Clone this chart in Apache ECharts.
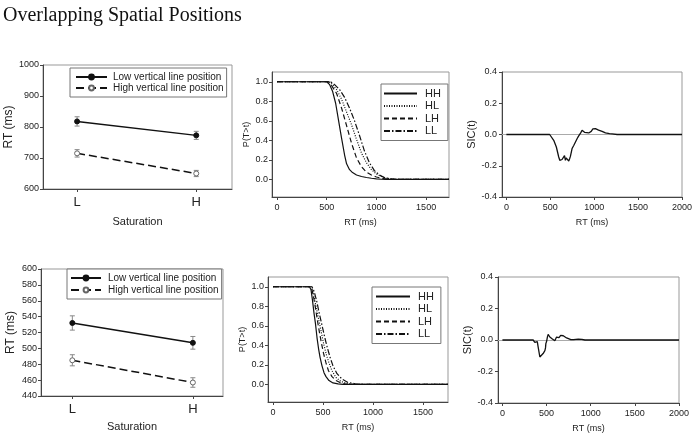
<!DOCTYPE html>
<html>
<head>
<meta charset="utf-8">
<script src="https://cdn.jsdelivr.net/npm/echarts@6/dist/echarts.min.js"></script>
<style>html,body{margin:0;padding:0;background:#fff}#c{width:697px;height:441px}</style>
</head>
<body>
<div id="c"></div>
<script>
// ---------- data ----------
const titleText = 'Overlapping Spatial Positions';
const satLabels = ['L', 'H'];
const satX = [1, 2];
const legendRT = ['Low vertical line position', 'High vertical line position'];
const legendSurv = ['HH', 'HL', 'LH', 'LL'];

// top row: mean RT and error
const topLow = [818, 773];
const topLowErr = [15, 13];
const topHigh = [715, 650];
const topHighErr = [12, 10];
// bottom row
const botLow = [532, 507];
const botLowErr = [9, 8];
const botHigh = [485, 457];
const botHighErr = [7, 6];

// survivor functions (top)
const topHH_t = [0, 500, 530, 560, 590, 620, 650, 680, 700, 730, 760, 800, 850, 900, 950, 1000, 1050, 1100, 1730];
const topHH_p = [1, 1, 0.97, 0.9, 0.78, 0.6, 0.42, 0.25, 0.16, 0.1, 0.07, 0.045, 0.03, 0.02, 0.012, 0.006, 0.002, 0, 0];
const topHL_t = [0, 530, 560, 600, 650, 700, 750, 800, 850, 900, 950, 1000, 1050, 1100, 1150, 1200, 1730];
const topHL_p = [1, 1, 0.97, 0.92, 0.82, 0.69, 0.56, 0.41, 0.27, 0.17, 0.1, 0.055, 0.03, 0.012, 0.004, 0, 0];
const topLH_t = [0, 520, 550, 600, 650, 700, 750, 800, 850, 900, 950, 1000, 1050, 1100, 1150, 1730];
const topLH_p = [1, 1, 0.96, 0.88, 0.73, 0.55, 0.37, 0.22, 0.13, 0.075, 0.045, 0.025, 0.012, 0.004, 0, 0];
const topLL_t = [0, 540, 580, 630, 680, 730, 780, 830, 880, 930, 980, 1030, 1080, 1130, 1200, 1730];
const topLL_p = [1, 1, 0.97, 0.92, 0.84, 0.73, 0.6, 0.45, 0.29, 0.17, 0.09, 0.045, 0.02, 0.008, 0, 0];

// survivor functions (bottom)
const botHH_t = [0, 365, 380, 395, 410, 425, 440, 455, 470, 490, 510, 530, 560, 600, 650, 700, 1750];
const botHH_p = [1, 1, 0.97, 0.86, 0.73, 0.62, 0.48, 0.37, 0.28, 0.19, 0.12, 0.08, 0.04, 0.015, 0.005, 0, 0];
const botHL_t = [0, 380, 395, 410, 430, 450, 470, 490, 510, 535, 560, 590, 630, 680, 740, 800, 1750];
const botHL_p = [1, 1, 0.97, 0.9, 0.8, 0.7, 0.6, 0.5, 0.4, 0.3, 0.22, 0.14, 0.07, 0.03, 0.01, 0, 0];
const botLH_t = [0, 375, 390, 405, 425, 445, 465, 485, 505, 530, 555, 590, 630, 680, 740, 1750];
const botLH_p = [1, 1, 0.97, 0.9, 0.78, 0.65, 0.53, 0.42, 0.32, 0.22, 0.14, 0.08, 0.04, 0.015, 0, 0];
const botLL_t = [0, 390, 405, 420, 440, 460, 480, 500, 520, 545, 570, 600, 640, 690, 750, 820, 900, 1750];
const botLL_p = [1, 1, 0.97, 0.92, 0.84, 0.74, 0.65, 0.56, 0.47, 0.37, 0.28, 0.19, 0.11, 0.055, 0.02, 0.007, 0, 0];

// SIC functions
const topSIC_t = [0, 493, 539, 569, 596, 608, 622, 634, 645, 653, 662, 672, 681, 691, 700, 710, 720, 729, 748, 767, 786, 805, 820, 835, 848, 862, 872, 880, 890, 900, 915, 928, 938, 948, 957, 966, 976, 985, 995, 1005, 1014, 1024, 1033, 1050, 1060, 1071, 1090, 1109, 1128, 1147, 1175, 1204, 1261, 2000];
const topSIC_v = [0, 0, -0.037, -0.08, -0.144, -0.165, -0.158, -0.16, -0.15, -0.148, -0.135, -0.165, -0.15, -0.155, -0.16, -0.17, -0.155, -0.14, -0.09, -0.07, -0.06, -0.027, -0.012, 0, 0.012, 0.027, 0.02, 0.022, 0.014, 0.017, 0.012, 0.018, 0.01, 0.016, 0.005, 0.02, 0.03, 0.036, 0.042, 0.035, 0.037, 0.032, 0.03, 0.028, 0.024, 0.02, 0.02, 0.015, 0.01, 0.008, 0.006, 0.004, 0, 0];
const botSIC_t = [0, 348, 367, 380, 386, 395, 405, 424, 432, 445, 461, 481, 488, 492, 500, 510, 518, 527, 537, 547, 557, 566, 575, 585, 594, 603, 613, 622, 632, 641, 651, 660, 670, 680, 689, 708, 727, 745, 775, 806, 859, 900, 935, 2000];
const botSIC_v = [0, 0, -0.015, -0.01, -0.02, -0.01, -0.045, -0.108, -0.118, -0.1, -0.086, -0.068, -0.05, -0.023, -0.01, 0.02, 0.036, 0.028, 0.019, 0.012, 0.01, 0.006, 0.015, 0.01, -0.005, 0.006, 0.019, 0.012, 0.008, 0.015, 0.022, 0.03, 0.042, 0.032, 0.027, 0.02, 0.013, 0.003, 0.002, 0.003, 0.005, 0.004, 0, 0];

// tick values
const survYTicks = [0, 0.2, 0.4, 0.6, 0.8, 1.0];
const survXTicks = [0, 500, 1000, 1500];
const sicXTicks = [0, 500, 1000, 1500, 2000];

// ---------- helpers ----------
const FONT = 'Liberation Sans';
const zip = (a, b) => a.map((v, i) => [v, b[i]]);
const zip3 = (a, b, c) => a.map((v, i) => [v, b[i], c[i]]);
const AX = '#444';

function baseAxis(extra) {
  return Object.assign({
    type: 'value',
    splitLine: { show: false },
    axisLine: { show: true, onZero: false, lineStyle: { color: AX, width: 1 } },
    axisTick: { show: true, length: 3, inside: false, lineStyle: { color: AX } },
    nameLocation: 'middle',
    nameTextStyle: { fontFamily: FONT, color: '#222', fontSize: 9 },
  }, extra);
}
const plain = v => String(Math.round(v * 1000) / 1000);
function lbl(fontSize, margin, formatter, customValues) {
  const o = { fontFamily: FONT, color: '#222', fontSize: fontSize, margin: margin, showMinLabel: true, showMaxLabel: true,
    formatter: formatter || plain };
  if (customValues) o.customValues = customValues;
  return o;
}
const f1 = v => Number(v).toFixed(1);
const satFmt = v => satLabels[satX.indexOf(Math.round(v))] || '';

function errSeries(name, xi, data) {
  return {
    name: name, type: 'custom', xAxisIndex: xi, yAxisIndex: xi, z: 1, silent: true,
    data: data,
    renderItem: function (params, api) {
      const x = api.value(0), m = api.value(1), e = api.value(2);
      const t = api.coord([x, m + e]), b = api.coord([x, m - e]);
      const w = 2.5, st = { stroke: '#888', lineWidth: 1 };
      return { type: 'group', children: [
        { type: 'line', shape: { x1: t[0], y1: t[1], x2: b[0], y2: b[1] }, style: st },
        { type: 'line', shape: { x1: t[0] - w, y1: t[1], x2: t[0] + w, y2: t[1] }, style: st },
        { type: 'line', shape: { x1: b[0] - w, y1: b[1], x2: b[0] + w, y2: b[1] }, style: st }
      ] };
    }
  };
}
function rtLine(name, xi, vals, low) {
  return {
    name: name, type: 'line', xAxisIndex: xi, yAxisIndex: xi, z: 3,
    data: zip(satX, vals),
    symbol: 'circle', symbolSize: 5,
    lineStyle: { color: '#111', width: 1.5, type: low ? 'solid' : [8, 4] },
    itemStyle: low ? { color: '#111', borderColor: '#111', borderWidth: 1 } : { color: '#fff', borderColor: '#666', borderWidth: 1 }
  };
}
const survStyles = {
  HH: 'solid',
  HL: [1, 1.5],
  LH: [5, 3],
  LL: [6, 2, 1.5, 2]
};
function survLine(name, xi, t, p) {
  return {
    name: name, type: 'line', xAxisIndex: xi, yAxisIndex: xi, showSymbol: false, symbol: 'none',
    data: zip(t, p),
    lineStyle: { color: '#111', width: 1.2, type: survStyles[name] },
    itemStyle: { color: '#111' }
  };
}
function sicLine(name, xi, t, v) {
  return {
    name: name, type: 'line', xAxisIndex: xi, yAxisIndex: xi, showSymbol: false, symbol: 'none', z: 3,
    data: zip(t, v),
    lineStyle: { color: '#111', width: 1.3 },
    markLine: {
      silent: true, symbol: ['none', 'none'], label: { show: false },
      lineStyle: { color: '#aaa', width: 1, type: 'solid' },
      data: [{ yAxis: 0 }], z: 1
    }
  };
}
function legendBox(left, top, names, iw, ih, padding, gap, txtPad, fs, hideSymbol) {
  const o = {
    orient: 'vertical', left: left, top: top, data: names,
    itemWidth: iw, itemHeight: ih, itemGap: gap, padding: padding,
    borderColor: '#777', borderWidth: 1, backgroundColor: '#fff',
    selectedMode: false,
    textStyle: { fontFamily: FONT, fontSize: fs, color: '#222', padding: [0, 0, 0, txtPad] }
  };
  if (hideSymbol) o.itemStyle = { opacity: 0 };
  return o;
}
const gridBase = { show: true, borderColor: '#999', borderWidth: 1, backgroundColor: 'transparent', containLabel: false, outerBoundsMode: 'none' };

const option = {
  animation: false,
  backgroundColor: '#fff',
  title: { text: titleText, left: 3, top: 6, padding: 0,
    textStyle: { fontFamily: 'Liberation Serif', fontSize: 20, fontWeight: 'normal', color: '#111' } },
  legend: [
    legendBox(70, 68, legendRT, 31, 6, [4, 3, 4, 5], 1, 1, 10, false),
    legendBox(381, 84, legendSurv, 33, 10, [4, 7, 4, 2], 1.5, 3, 11, true),
    legendBox(67, 269, legendRT, 30, 6, [4, 3, 4, 3], 2, 2, 10, false),
    legendBox(372, 287, legendSurv, 34, 10, [4, 7, 4, 3], 1.5, 3, 11, true)
  ],
  grid: [
    Object.assign({ left: 43, top: 65, width: 189, height: 124 }, gridBase),
    Object.assign({ left: 272, top: 72, width: 177, height: 125 }, gridBase),
    Object.assign({ left: 502, top: 72, width: 180, height: 125 }, gridBase),
    Object.assign({ left: 41, top: 269, width: 182, height: 127 }, gridBase),
    Object.assign({ left: 268, top: 277, width: 180, height: 125 }, gridBase),
    Object.assign({ left: 498, top: 277, width: 181, height: 126 }, gridBase)
  ],
  xAxis: [
    baseAxis({ gridIndex: 0, min: 0.714, max: 2.30, name: 'Saturation', nameGap: 27,
      nameTextStyle: { fontFamily: FONT, color: '#222', fontSize: 11 },
      axisTick: { show: true, length: 3, customValues: satX, lineStyle: { color: AX } },
      axisLabel: lbl(13, 7, satFmt, satX) }),
    baseAxis({ gridIndex: 1, min: -50, max: 1730, name: 'RT (ms)', nameGap: 21,
      axisTick: { show: true, length: 3, customValues: survXTicks, lineStyle: { color: AX } },
      axisLabel: lbl(9, 6, null, survXTicks) }),
    baseAxis({ gridIndex: 2, min: -50, max: 2000, name: 'RT (ms)', nameGap: 21,
      axisTick: { show: true, length: 3, customValues: sicXTicks, lineStyle: { color: AX } },
      axisLabel: lbl(9, 6, null, sicXTicks) }),
    baseAxis({ gridIndex: 3, min: 0.74, max: 2.25, name: 'Saturation', nameGap: 25,
      nameTextStyle: { fontFamily: FONT, color: '#222', fontSize: 11 },
      axisTick: { show: true, length: 3, customValues: satX, lineStyle: { color: AX } },
      axisLabel: lbl(13, 7, satFmt, satX) }),
    baseAxis({ gridIndex: 4, min: -50, max: 1750, name: 'RT (ms)', nameGap: 21,
      axisTick: { show: true, length: 3, customValues: survXTicks, lineStyle: { color: AX } },
      axisLabel: lbl(9, 6, null, survXTicks) }),
    baseAxis({ gridIndex: 5, min: -50, max: 2000, name: 'RT (ms)', nameGap: 21,
      axisTick: { show: true, length: 3, customValues: sicXTicks, lineStyle: { color: AX } },
      axisLabel: lbl(9, 6, null, sicXTicks) })
  ],
  yAxis: [
    baseAxis({ gridIndex: 0, min: 600, max: 1000, interval: 100, name: 'RT (ms)', nameGap: 26,
      nameTextStyle: { fontFamily: FONT, color: '#222', fontSize: 12 },
      axisLabel: lbl(9, 4) }),
    baseAxis({ gridIndex: 1, min: -0.18, max: 1.1, name: 'P(T>t)', nameGap: 21,
      axisTick: { show: true, length: 3, customValues: survYTicks, lineStyle: { color: AX } },
      axisLabel: lbl(9, 4, f1, survYTicks) }),
    baseAxis({ gridIndex: 2, min: -0.4, max: 0.4, interval: 0.2, name: 'SIC(t)', nameGap: 22,
      nameTextStyle: { fontFamily: FONT, color: '#222', fontSize: 11 },
      axisLabel: lbl(9, 5, f1) }),
    baseAxis({ gridIndex: 3, min: 440, max: 600, interval: 20, name: 'RT (ms)', nameGap: 24,
      nameTextStyle: { fontFamily: FONT, color: '#222', fontSize: 12 },
      axisLabel: lbl(9, 4) }),
    baseAxis({ gridIndex: 4, min: -0.18, max: 1.1, name: 'P(T>t)', nameGap: 21,
      axisTick: { show: true, length: 3, customValues: survYTicks, lineStyle: { color: AX } },
      axisLabel: lbl(9, 4, f1, survYTicks) }),
    baseAxis({ gridIndex: 5, min: -0.4, max: 0.4, interval: 0.2, name: 'SIC(t)', nameGap: 24,
      nameTextStyle: { fontFamily: FONT, color: '#222', fontSize: 11 },
      axisLabel: lbl(9, 5, f1) })
  ],
  series: [
    errSeries('errTopLow', 0, zip3(satX, topLow, topLowErr)),
    errSeries('errTopHigh', 0, zip3(satX, topHigh, topHighErr)),
    rtLine(legendRT[0], 0, topLow, true),
    rtLine(legendRT[1], 0, topHigh, false),
    survLine('HH', 1, topHH_t, topHH_p),
    survLine('HL', 1, topHL_t, topHL_p),
    survLine('LH', 1, topLH_t, topLH_p),
    survLine('LL', 1, topLL_t, topLL_p),
    sicLine('SIC top', 2, topSIC_t, topSIC_v),
    errSeries('errBotLow', 3, zip3(satX, botLow, botLowErr)),
    errSeries('errBotHigh', 3, zip3(satX, botHigh, botHighErr)),
    rtLine(legendRT[0], 3, botLow, true),
    rtLine(legendRT[1], 3, botHigh, false),
    survLine('HH', 4, botHH_t, botHH_p),
    survLine('HL', 4, botHL_t, botHL_p),
    survLine('LH', 4, botLH_t, botLH_p),
    survLine('LL', 4, botLL_t, botLL_p),
    sicLine('SIC bottom', 5, botSIC_t, botSIC_v)
  ]
};
const chart = echarts.init(document.getElementById('c'), null, { renderer: 'canvas' });
chart.setOption(option);
</script>
</body>
</html>
